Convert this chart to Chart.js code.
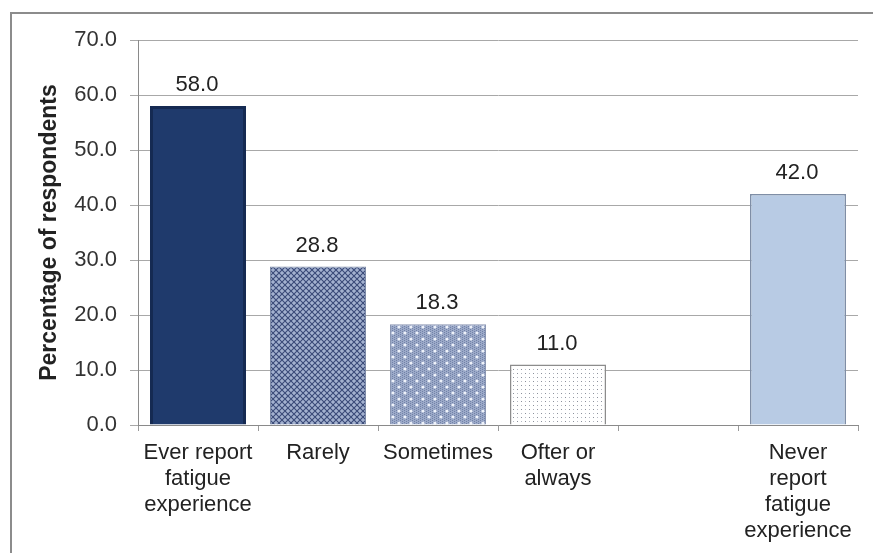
<!DOCTYPE html>
<html>
<head>
<meta charset="utf-8">
<script src="https://cdn.jsdelivr.net/npm/chart.js@4"></script>
<style>
    body { margin: 0; background: #fff; }
    #wrap { position: relative; width: 873px; height: 553px; overflow: hidden; }
    #frame { position: absolute; left: 10px; top: 12px; width: 900px; height: 600px; border: 2px solid #8c8c8c; }
    canvas { position: absolute; left: 0; top: 0; }
</style>
</head>
<body>
<div id="wrap">
    <div id="frame"></div>
    <canvas id="grafica" width="873" height="553"></canvas>
</div>
<script>
// Categorías y valores (el hueco separa "Never report")
const categorias = [
    ["Ever report", "fatigue", "experience"],
    "Rarely",
    "Sometimes",
    ["Ofter or", "always"],
    "",
    ["Never", "report", "fatigue", "experience"]
];
const porcentajes = [58.0, 28.8, 18.3, 11.0, null, 42.0];
const ticksY = [0, 10, 20, 30, 40, 50, 60, 70];

const FUENTE = "'Liberation Sans', Arial, sans-serif";

// Tramas de relleno para las barras
function trama(w, h, dibujar) {
    const c = document.createElement("canvas");
    c.width = w;
    c.height = h;
    dibujar(c.getContext("2d"));
    return c.getContext("2d").createPattern(c, "repeat");
}

const ctx = document.getElementById("grafica");

const cuadricula = trama(6, 6, g => {
    g.fillStyle = "#a3b1cf";
    g.fillRect(0, 0, 6, 6);
    g.strokeStyle = "#3a4a78";
    g.lineWidth = 1.1;
    g.beginPath();
    g.moveTo(0, 0); g.lineTo(6, 6);
    g.moveTo(6, 0); g.lineTo(0, 6);
    g.stroke();
});

const puntos = trama(12, 12, g => {
    g.fillStyle = "#9ba9c8";
    g.fillRect(0, 0, 12, 12);
    g.fillStyle = "#7282a8";
    for (let i = 0; i < 12; i += 2)
        for (let j = (i / 2) % 2; j < 12; j += 2) g.fillRect(i, j, 1, 1);
    g.fillStyle = "#eef2fa";
    g.beginPath(); g.arc(3, 3, 1.6, 0, Math.PI * 2); g.fill();
    g.beginPath(); g.arc(9, 9, 1.6, 0, Math.PI * 2); g.fill();
});

const punteado = trama(8, 8, g => {
    g.fillStyle = "#ffffff";
    g.fillRect(0, 0, 8, 8);
    g.fillStyle = "#8a8f9a";
    g.fillRect(1, 1, 1, 1);
    g.fillRect(5, 5, 1, 1);
    g.fillStyle = "#b5b9c2";
    g.fillRect(5, 1, 1, 1);
    g.fillRect(1, 5, 1, 1);
});

// Etiquetas de valor sobre cada barra
const etiquetas = {
    id: "etiquetas",
    afterDatasetsDraw(chart) {
        const c = chart.ctx;
        const meta = chart.getDatasetMeta(0);
        c.save();
        c.font = "22px " + FUENTE;
        c.fillStyle = "#222";
        c.textAlign = "center";
        c.textBaseline = "alphabetic";
        meta.data.forEach((bar, i) => {
            const v = porcentajes[i];
            if (v === null) return;
            c.fillText(v.toFixed(1), bar.x - 1, bar.y - 15);
        });
        c.restore();
    }
};

new Chart(ctx, {
    type: "bar",
    data: {
        labels: categorias,
        datasets: [
            {
                data: porcentajes,
                backgroundColor: ["#1f3a6c", cuadricula, puntos, punteado, "#fff", "#b8cbe4"],
                borderColor: ["#152a52", "#7d8aa6", "#8a96b2", "#8c8c8c", "#fff", "#7f8ea6"],
                borderWidth: [3, 1, 1, 1.5, 0, 1.5],
                barPercentage: 0.8,
                categoryPercentage: 1
            }
        ]
    },
    options: {
        responsive: false,
        animation: false,
        layout: { padding: { top: 40, right: 15, left: 36, bottom: 0 } },
        plugins: { legend: { display: false }, tooltip: { enabled: false } },
        scales: {
            x: {
                afterFit: s => { s.height = 128; },
                grid: { drawOnChartArea: false, offset: true, tickLength: 6, color: "#9a9a9a" },
                border: { color: "#8a8a8a" },
                ticks: {
                    color: "#222",
                    font: { size: 22, family: FUENTE, lineHeight: 1.18 },
                    padding: 9,
                    maxRotation: 0,
                    autoSkip: false
                }
            },
            y: {
                min: 0,
                max: 70,
                afterFit: s => { s.width = 102; },
                afterBuildTicks: s => { s.ticks = ticksY.map(v => ({ value: v })); },
                grid: { color: "#a8a8a8", tickLength: 8 },
                border: { color: "#8a8a8a" },
                ticks: {
                    color: "#333",
                    font: { size: 22, family: FUENTE },
                    padding: 13,
                    callback: v => v.toFixed(1)
                },
                title: {
                    display: true,
                    text: "Percentage of respondents",
                    color: "#222",
                    font: { size: 23, weight: "bold", family: FUENTE, lineHeight: 1.2 },
                    padding: { top: 0, bottom: 0 }
                }
            }
        }
    },
    plugins: [etiquetas]
});
</script>
</body>
</html>
